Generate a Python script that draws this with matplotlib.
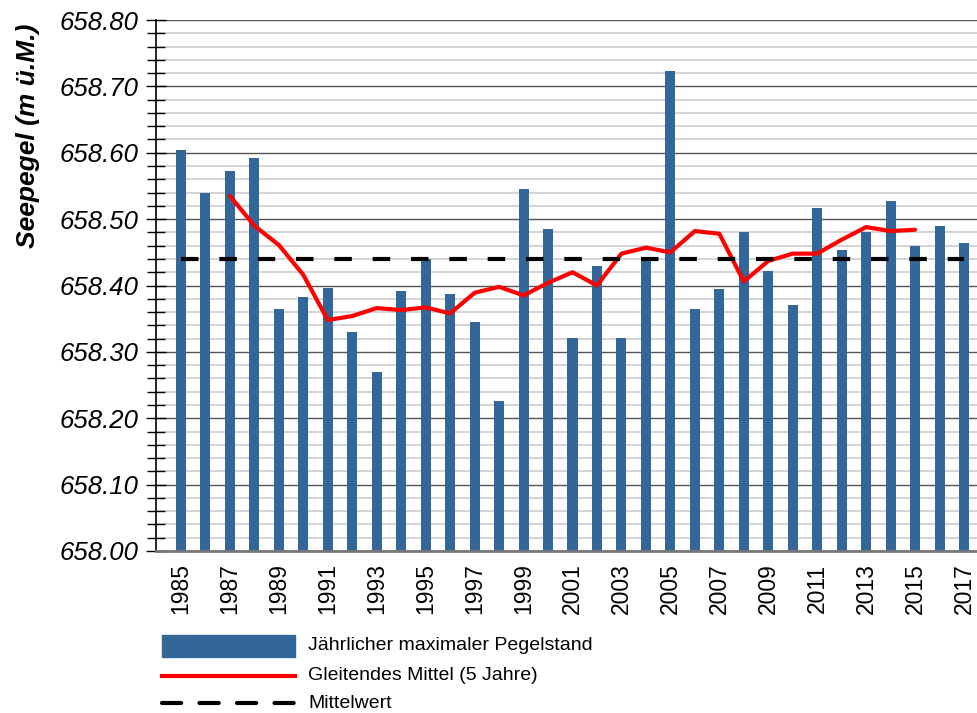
import matplotlib
matplotlib.use("Agg")
import matplotlib.pyplot as plt
from matplotlib.patches import Rectangle
from matplotlib.lines import Line2D
from matplotlib.ticker import MultipleLocator, FormatStrFormatter

# ---- data ----
years = list(range(1985, 2018))
max_level = [658.604, 658.540, 658.573, 658.592, 658.365, 658.383, 658.396,
             658.330, 658.270, 658.392, 658.440, 658.387, 658.345, 658.226,
             658.545, 658.485, 658.321, 658.430, 658.321, 658.443, 658.723,
             658.365, 658.395, 658.481, 658.422, 658.371, 658.517, 658.454,
             658.481, 658.527, 658.460, 658.490, 658.464]
ma_years = list(range(1987, 2016))
moving_avg = [658.535, 658.490, 658.461, 658.416, 658.348, 658.354, 658.366,
              658.363, 658.367, 658.358, 658.389, 658.398, 658.385, 658.404,
              658.420, 658.400, 658.448, 658.457, 658.450, 658.482, 658.478,
              658.406, 658.437, 658.448, 658.448, 658.469, 658.488, 658.482,
              658.484]
mean_value = 658.44
tick_years = list(range(1985, 2018, 2))
legend_labels = ["Jährlicher maximaler Pegelstand",
                 "Gleitendes Mittel (5 Jahre)",
                 "Mittelwert"]
ylabel = "Seepegel (m ü.M.)"

W, H = 977, 713
BAR = "#336699"
FONT = ["Liberation Sans", "DejaVu Sans"]

fig = plt.figure(figsize=(W / 100, H / 100), dpi=100)
ax = fig.add_axes([156 / W, (H - 551) / H, (W - 156) / W, 531 / H])

ax.set_ylim(658.0, 658.8)
ax.set_xlim(1983.98, 2017.53)

ax.yaxis.set_major_locator(MultipleLocator(0.1))
ax.yaxis.set_minor_locator(MultipleLocator(0.02))
ax.yaxis.set_major_formatter(FormatStrFormatter("%.2f"))
ax.grid(which="minor", axis="y", color="#d4d4d4", lw=1.4, zorder=0)
ax.grid(which="major", axis="y", color="#555555", lw=1.0, zorder=0.5)
ax.set_axisbelow(True)

ax.bar(years, [v - 658.0 for v in max_level], bottom=658.0, width=0.41,
       color=BAR, zorder=2)
ax.plot(ma_years, moving_avg, color="#ff0000", lw=3.0, zorder=3,
        solid_joinstyle="round", solid_capstyle="round")
ax.plot([years[0], years[-1]], [mean_value, mean_value], color="black",
        lw=3.0, dashes=(4.2, 5.0), zorder=4)

ax.set_xticks(tick_years)
ax.set_xticklabels([str(y) for y in tick_years], rotation=90,
                   fontsize=16.5, family=FONT)
ax.tick_params(axis="x", length=0, pad=9)
ax.tick_params(axis="y", which="major", direction="inout", length=15,
               width=1, color="black", pad=5)
ax.tick_params(axis="y", which="minor", direction="inout", length=13,
               width=1, color="black")
for lab in ax.get_yticklabels():
    lab.set_fontsize(18.5)
    lab.set_fontstyle("italic")
    lab.set_family(FONT)

for s in ["top", "right"]:
    ax.spines[s].set_visible(False)
ax.spines["left"].set_color("black")
ax.spines["left"].set_linewidth(1.2)
ax.spines["bottom"].set_color("#777777")
ax.spines["bottom"].set_linewidth(2)

fig.text(28 / W, 1 - 136 / H, ylabel, rotation=90, ha="center", va="center",
         fontsize=19, fontweight="bold", fontstyle="italic", family=FONT)

# ---- legend (manual) ----
rows = [646, 676, 703]
x0, x1 = 162 / W, 295 / W
fig.add_artist(Rectangle((x0, 1 - 657 / H), x1 - x0, 22 / H,
                         transform=fig.transFigure, color=BAR))
fig.add_artist(Line2D([x0, x1], [1 - rows[1] / H] * 2, transform=fig.transFigure,
                      color="#ff0000", lw=3.0))
fig.add_artist(Line2D([x0, x1], [1 - rows[2] / H] * 2, transform=fig.transFigure,
                      color="black", lw=3.0, dashes=(4.6, 4.4),
                      dash_capstyle="round"))
for r, lab in zip(rows, legend_labels):
    fig.text(308 / W, 1 - r / H, lab, ha="left", va="center",
             fontsize=14, family=FONT)

fig.savefig("out.png", dpi=100)
